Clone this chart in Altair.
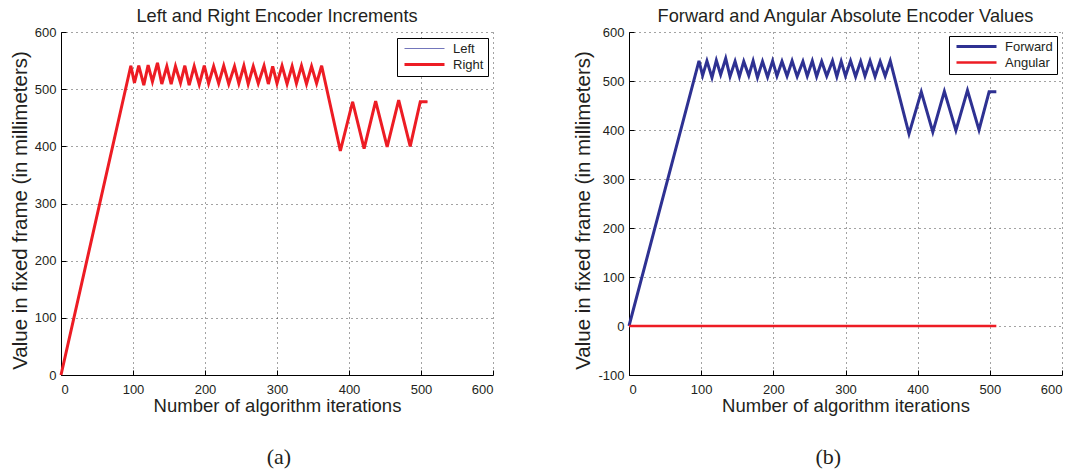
import altair as alt
import pandas as pd

# ---- data ----
iterations = [0, 97, 102, 108, 115, 121, 127, 134, 140, 147, 153, 159, 166, 172, 178,
              185, 192, 199, 205, 212, 219, 226, 233, 241, 247, 254, 260, 267, 274,
              282, 288, 294, 300, 307, 314, 321, 327, 334, 341, 348, 355, 362,
              388, 405, 421, 437, 453, 469, 485, 499, 509]
distance = [0, 541, 511, 541, 507, 542, 513, 546, 509, 540, 509, 540, 511, 541, 507,
            540, 508, 541, 510, 540, 510, 541, 509, 540, 510, 541, 509, 540, 510,
            541, 509, 540, 510, 541, 509, 540, 510, 541, 509, 540, 510, 541,
            392, 478, 396, 479, 399, 481, 400, 478, 478]
angular_iterations = [0, 509]
angular_values = [0, 0]

left_names = ["Left", "Right"]
left_colors = ["#7376bb", "#ed1c24"]
left_widths = [1, 3]
right_names = ["Forward", "Angular"]
right_colors = ["#2e3192", "#ed1c24"]
right_widths = [3, 2.5]

x_ticks = [0, 100, 200, 300, 400, 500, 600]
y_ticks_a = [0, 100, 200, 300, 400, 500, 600]
y_ticks_b = [-100, 0, 100, 200, 300, 400, 500, 600]

titles = ["Left and Right Encoder Increments", "Forward and Angular Absolute Encoder Values"]
captions = ["(a)", "(b)"]
x_title = "Number of algorithm iterations"
y_title = "Value in fixed frame (in millimeters)"

FONT = "Liberation Sans"
TXT = "#231f20"

n = len(iterations)
df_a = pd.DataFrame({
    "iter": iterations + iterations,
    "value": distance + distance,
    "series": [left_names[0]] * n + [left_names[1]] * n,
})
df_b = pd.DataFrame({
    "iter": iterations + angular_iterations,
    "value": distance + angular_values,
    "series": [right_names[0]] * n + [right_names[1]] * len(angular_iterations),
})


def panel(df, names, colors, widths, ydom, yticks, title, lx, ly, w):
    xs = alt.Scale(domain=[0, 600], nice=False, zero=False)
    ys = alt.Scale(domain=ydom, nice=False, zero=False)
    leg = alt.Legend(title=None, orient="none", legendX=lx, legendY=ly,
                     symbolType="M-4,0H4", symbolSize=100, symbolOffset=17,
                     labelFontSize=13, labelFont=FONT, labelColor=TXT,
                     labelOffset=22, strokeColor="black", fillColor="white",
                     padding=4, rowPadding=2)
    lines = alt.Chart(df).mark_line().encode(
        x=alt.X("iter:Q", scale=xs,
                axis=alt.Axis(values=x_ticks, grid=True, ticks=False, domain=True,
                              title=x_title, labelPadding=8, titlePadding=0,
                              labelExpr="datum.value + ''")),
        y=alt.Y("value:Q", scale=ys,
                axis=alt.Axis(values=yticks, grid=True, ticks=False, domain=True,
                              title=y_title, labelPadding=5, titlePadding=4,
                              titleFontSize=20.5, titleY=178,
                              labelExpr="datum.value + ''")),
        color=alt.Color("series:N", scale=alt.Scale(domain=names, range=colors),
                        legend=leg),
        strokeWidth=alt.StrokeWidth("series:N",
                                    scale=alt.Scale(domain=names, range=widths),
                                    legend=leg),
    )
    ticks = alt.Chart(df).mark_line(opacity=0).encode(
        x=alt.X("iter:Q", scale=xs,
                axis=alt.Axis(orient="bottom", values=x_ticks, offset=-5, tickSize=5,
                              domain=False, labels=False, grid=False, title="",
                              tickColor="black")),
        y=alt.Y("value:Q", scale=ys,
                axis=alt.Axis(orient="left", values=yticks, offset=-5, tickSize=5,
                              domain=False, labels=False, grid=False, title="",
                              tickColor="black")),
    )
    return alt.layer(lines, ticks).resolve_axis(
        x="independent", y="independent"
    ).properties(
        width=w, height=343,
        title=alt.TitleParams(title, fontSize=18.2, font=FONT, fontWeight="normal",
                              color=TXT, anchor="middle", frame="group", offset=0),
    )


pa = panel(df_a, left_names, left_colors, left_widths, [0, 600], y_ticks_a,
           titles[0], 336, 6, 432)
pb = panel(df_b, right_names, right_colors, right_widths, [-100, 600], y_ticks_b,
           titles[1], 320, 4, 433)

cap = dict(orient="bottom", font="Liberation Serif", fontSize=22, fontWeight="normal",
           color=TXT, anchor="middle", offset=32)
a = alt.vconcat(pa, title=alt.TitleParams(captions[0], dx=27, **cap))
b = alt.vconcat(pb, title=alt.TitleParams(captions[1], dx=10, **cap))

chart = alt.hconcat(a, b, spacing=79).resolve_scale(
    color="independent", strokeWidth="independent"
).resolve_legend(
    color="independent", strokeWidth="independent"
).properties(
    padding={"left": 10, "top": 6, "right": 5, "bottom": 5}
).configure_view(stroke=None).configure_axis(
    labelFont=FONT, labelFontSize=13, labelColor=TXT,
    titleFont=FONT, titleFontSize=18.5, titleFontWeight="normal", titleColor=TXT,
    domainColor="black", domainWidth=1,
    gridColor="#333333", gridDash=[1, 4], gridWidth=1, gridOpacity=0.9,
)

chart.save("out.html", embed_options={"renderer": "svg", "actions": False})
